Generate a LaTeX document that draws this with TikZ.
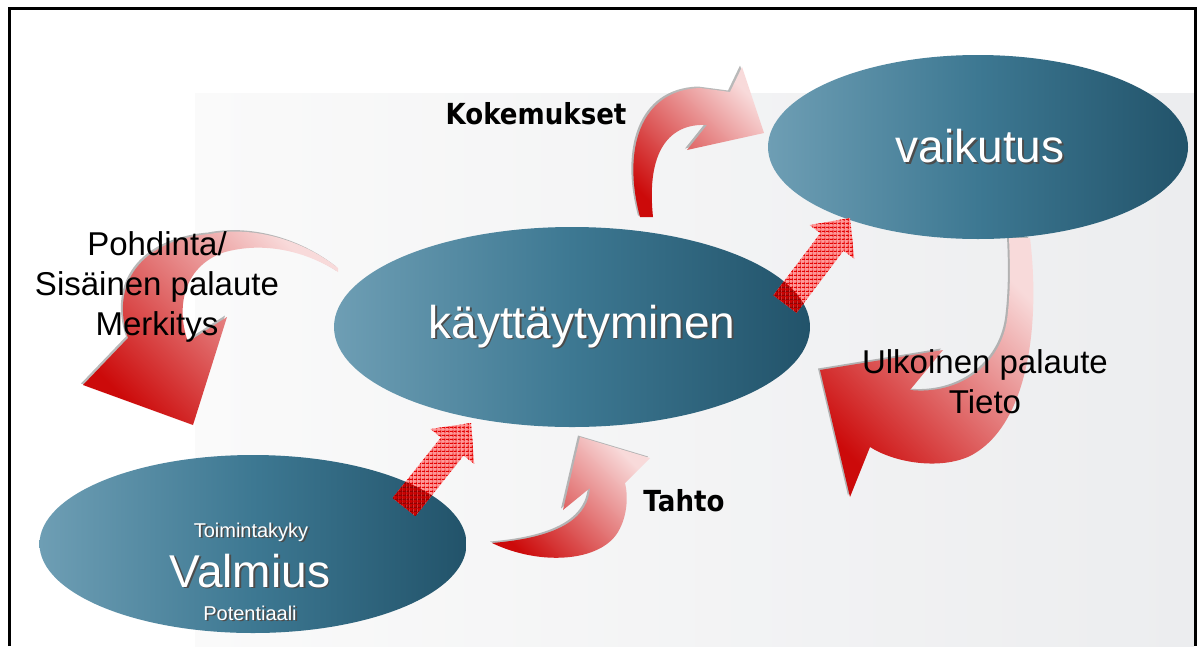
\documentclass[tikz,border=0pt]{standalone}
\usepackage{fontspec}
\setmainfont{Liberation Sans}
\newfontfamily\tahofont{DejaVu Sans}[FakeStretch=0.9]
\usetikzlibrary{shapes.geometric,calc,patterns.meta}

\definecolor{ellL}{HTML}{6E9EB4}
\definecolor{ellM}{HTML}{3D7892}
\definecolor{ellR}{HTML}{22536A}
\definecolor{arrowred}{HTML}{CC0A0A}
\definecolor{arrowpink}{HTML}{F8DADA}
\definecolor{panelL}{HTML}{FAFAFA}
\definecolor{panelR}{HTML}{ECEDEF}

% white text with a soft dark drop shadow
\newcommand\shtxt[1]{\makebox[0pt][l]{\kern1.8pt\raisebox{-1.8pt}{\textcolor{black!70}{#1}}}#1}

% straight block arrow: #1 tail, #2 base of the head, #3 tip
\newcommand\blockpath[3]{($(#1)!14.5pt!90:(#3)$) -- ($(#2)!14.5pt!90:(#3)$) -- ($(#2)!28pt!90:(#3)$) -- (#3) -- ($(#2)!28pt!-90:(#3)$) -- ($(#2)!14.5pt!-90:(#3)$) -- ($(#1)!14.5pt!-90:(#3)$) -- cycle}

% curved arrows
\newcommand\kokpath{(640,217) .. controls (622,150) and (640,90) .. (700,88) -- (730,92) -- (742,67) -- (764,133) -- (687,150) -- (707,125) .. controls (670,123) and (646,150) .. (653,217) -- cycle}
\newcommand\pohpath{(338,268) .. controls (300,238) and (250,226) .. (210,234) .. controls (140,240) and (110,285) .. (128,338) -- (83,385) -- (193,425) -- (227,317) -- (188,342) .. controls (175,305) and (185,265) .. (225,252) .. controls (270,240) and (312,255) .. (338,272) -- cycle}
\newcommand\ulkpath{(1009,238) -- (1030,238) .. controls (1040,320) and (1030,425) .. (970,456) .. controls (940,470) and (895,463) .. (870,447) -- (850,497) -- (820,370) -- (943,350) -- (910,390) .. controls (960,395) and (1000,365) .. (1007,320) .. controls (1011,290) and (1010,260) .. (1009,238) -- cycle}
\newcommand\tahpath{(492,543) .. controls (540,566) and (600,562) .. (618,532) .. controls (628,515) and (628,495) .. (625,483) -- (650,458) -- (580,437) -- (563,510) -- (590,488) .. controls (588,515) and (565,537) .. (492,543) -- cycle}

\tikzset{
  oval/.style={ellipse, inner sep=0pt, draw=none, left color=ellL, right color=ellR, middle color=ellM, text=white},
  bigtxt/.style={font=\fontsize{46}{50}\selectfont},
  smalltxt/.style={font=\fontsize{20}{22}\selectfont, text=white},
  lbl/.style={font=\fontsize{33}{40}\selectfont, align=center, text=black},
  boldlbl/.style={font=\tahofont\bfseries\fontsize{29}{32}\selectfont, text=black},
  curved/.style={top color=arrowpink, bottom color=arrowred, shading angle=-45},
  curvedshadow/.style={fill=black!50, opacity=.55, shift={(-2,-1.5)}},
  checkbase/.style={fill=red!40!white},
  checkh/.style={pattern={Lines[angle=0,distance=4pt,line width=1.3pt]}, pattern color=#1},
  checkv/.style={pattern={Lines[angle=90,distance=4pt,line width=1.3pt]}, pattern color=#1},
}

\begin{document}
\begin{tikzpicture}[x=1pt,y=-1pt]
\useasboundingbox (0,0) rectangle (1201,646);
\fill[white] (0,0) rectangle (1201,646);

% light panel behind the diagram
\shade[left color=panelL, right color=panelR] (195,93) rectangle (1194,646);

% frame
\draw[line width=3pt] (9.5,646) -- (9.5,8.5) -- (1195.5,8.5) -- (1195.5,646);

% curved arrows
\foreach \p in {\kokpath,\pohpath,\ulkpath,\tahpath}{
  \fill[curvedshadow] \p;
  \shade[curved] \p;
}

% the three ovals
\node[oval, bigtxt, minimum width=476pt, minimum height=200pt] (behav) at (572,327) {\hspace*{20pt}\shtxt{käyttäytyminen}};
\node[oval, bigtxt, minimum width=420pt, minimum height=184pt] (effect) at (978,147) {\hspace*{4pt}\shtxt{vaikutus}};
\node[oval, minimum width=427pt, minimum height=178pt] (ready) at (253,544) {};

\node[smalltxt, anchor=base] (vt1) at (251,537) {\shtxt{Toimintakyky}};
\node[bigtxt, text=white, anchor=base] (vt2) at (250,587) {\shtxt{Valmius}};
\node[smalltxt, anchor=base] (vt3) at (250,620) {\shtxt{Potentiaali}};

% straight checked arrows
\coordinate (a1s) at (404,507);
\coordinate (a1e) at (471,423);
\coordinate (a1m) at ($(a1e)!30pt!(a1s)$);
\coordinate (a2s) at (785,304);
\coordinate (a2e) at (850,218);
\coordinate (a2m) at ($(a2e)!30pt!(a2s)$);

\foreach \s/\m/\e in {a1s/a1m/a1e, a2s/a2m/a2e}{
  \fill[checkbase] \blockpath{\s}{\m}{\e};
  \fill[checkh=red!90!black] \blockpath{\s}{\m}{\e};
  \fill[checkv=red!90!black] \blockpath{\s}{\m}{\e};
}
\begin{scope}
  \clip (253,544) ellipse [x radius=213.5, y radius=89];
  \fill[red!80!black] \blockpath{a1s}{a1m}{a1e};
  \fill[checkh=red!55!black] \blockpath{a1s}{a1m}{a1e};
  \fill[checkv=red!55!black] \blockpath{a1s}{a1m}{a1e};
\end{scope}
\begin{scope}
  \clip (572,327) ellipse [x radius=238, y radius=100];
  \fill[red!80!black] \blockpath{a2s}{a2m}{a2e};
  \fill[checkh=red!55!black] \blockpath{a2s}{a2m}{a2e};
  \fill[checkv=red!55!black] \blockpath{a2s}{a2m}{a2e};
\end{scope}

% labels
\node[boldlbl] (kok) at (536,114) {Kokemukset};
\node[boldlbl] (tahto) at (684,501) {Tahto};
\node[lbl] (poh) at (157,287) {Pohdinta/\\Sisäinen palaute\\Merkitys};
\node[lbl] (ulk) at (985,382) {Ulkoinen palaute\\Tieto};
\end{tikzpicture}
\end{document}
